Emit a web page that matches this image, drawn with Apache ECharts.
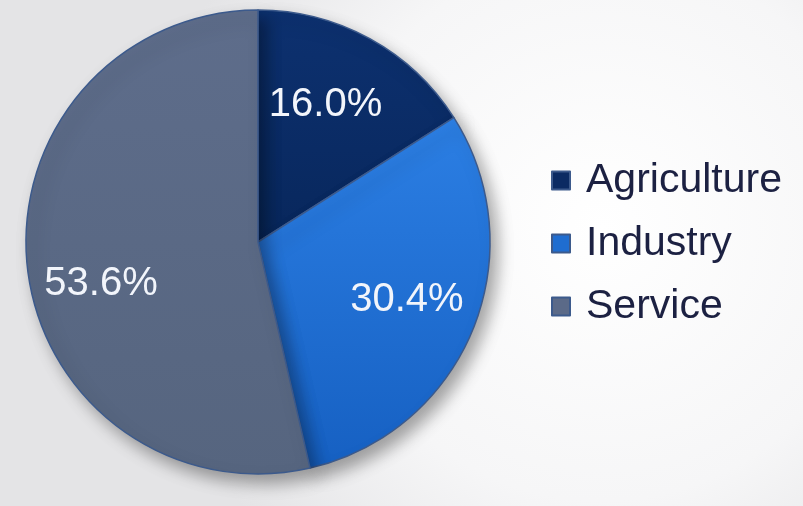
<!DOCTYPE html>
<html><head><meta charset="utf-8">
<script src="https://cdn.jsdelivr.net/npm/echarts@6/dist/echarts.min.js"></script>
<style>html,body{margin:0;padding:0;}#c{width:803px;height:506px;}</style>
</head><body><div id="c"></div>
<script>
const categories = ['Agriculture', 'Industry', 'Service'];
const shares = [16.0, 30.4, 53.6];
const sliceColors = ['#0b2b63', '#1f6dd0', '#5b6a88'];

const chart = echarts.init(document.getElementById('c'), null, {renderer: 'canvas'});
const fillFor = (i) => {
  if (i === 1) return new echarts.graphic.LinearGradient(0, 0, 0, 1, [
    {offset: 0, color: '#2c7fe4'}, {offset: 1, color: '#1660c2'}]);
  if (i === 0) return new echarts.graphic.LinearGradient(0, 0, 0, 1, [
    {offset: 0, color: '#0d3170'}, {offset: 1, color: '#08275c'}]);
  return new echarts.graphic.LinearGradient(0, 0, 0, 1, [
    {offset: 0, color: '#5e6d8b'}, {offset: 1, color: '#56657f'}]);
};
const labelOffsets = [[-10, 4], [0, -3], [3, 24]];
const pieData = categories.map((n, i) => ({name: n, value: shares[i], itemStyle: {color: fillFor(i)}}));
const labelData = categories.map((n, i) => ({name: n, value: shares[i], label: {offset: labelOffsets[i]}}));

chart.setOption({
  backgroundColor: new echarts.graphic.RadialGradient(0.75, 0.45, 0.9, [
    {offset: 0, color: '#ffffff'}, {offset: 0.6, color: '#f6f6f7'}, {offset: 1, color: '#e4e4e6'}]),
  animation: false,
  legend: {
    orient: 'vertical',
    left: 546,
    top: 155,
    itemWidth: 18,
    itemHeight: 18,
    itemGap: 22,
    data: categories.map((n, i) => ({name: n, itemStyle: {color: sliceColors[i]}})),
    textStyle: {fontSize: 41, lineHeight: 40, color: '#1c2142', fontFamily: 'Liberation Sans, Arial, sans-serif', padding: [0, 0, 0, 11]},
    icon: 'rect'
  },
  series: [
    {
      type: 'pie',
      center: [258, 242],
      radius: [0, 232],
      startAngle: 90,
      clockwise: true,
      label: {show: false},
      labelLine: {show: false},
      itemStyle: {
        borderColor: '#3c5a8c', borderWidth: 1.5,
        shadowBlur: 16, shadowOffsetX: 7, shadowOffsetY: 9, shadowColor: 'rgba(0,0,0,0.35)'
      },
      emphasis: {disabled: true},
      data: pieData
    },
    {
      type: 'pie',
      center: [258, 242],
      radius: [84, 232],
      startAngle: 90,
      clockwise: true,
      silent: true,
      legendHoverLink: false,
      itemStyle: {color: 'rgba(0,0,0,0)', borderWidth: 0},
      label: {
        show: true, position: 'inside',
        formatter: (p) => p.value.toFixed(1) + '%',
        color: '#f2f5fb', fontSize: 40, fontFamily: 'Liberation Sans, Arial, sans-serif'
      },
      labelLine: {show: false},
      emphasis: {disabled: true},
      data: labelData
    }
  ]
});
</script></body></html>
